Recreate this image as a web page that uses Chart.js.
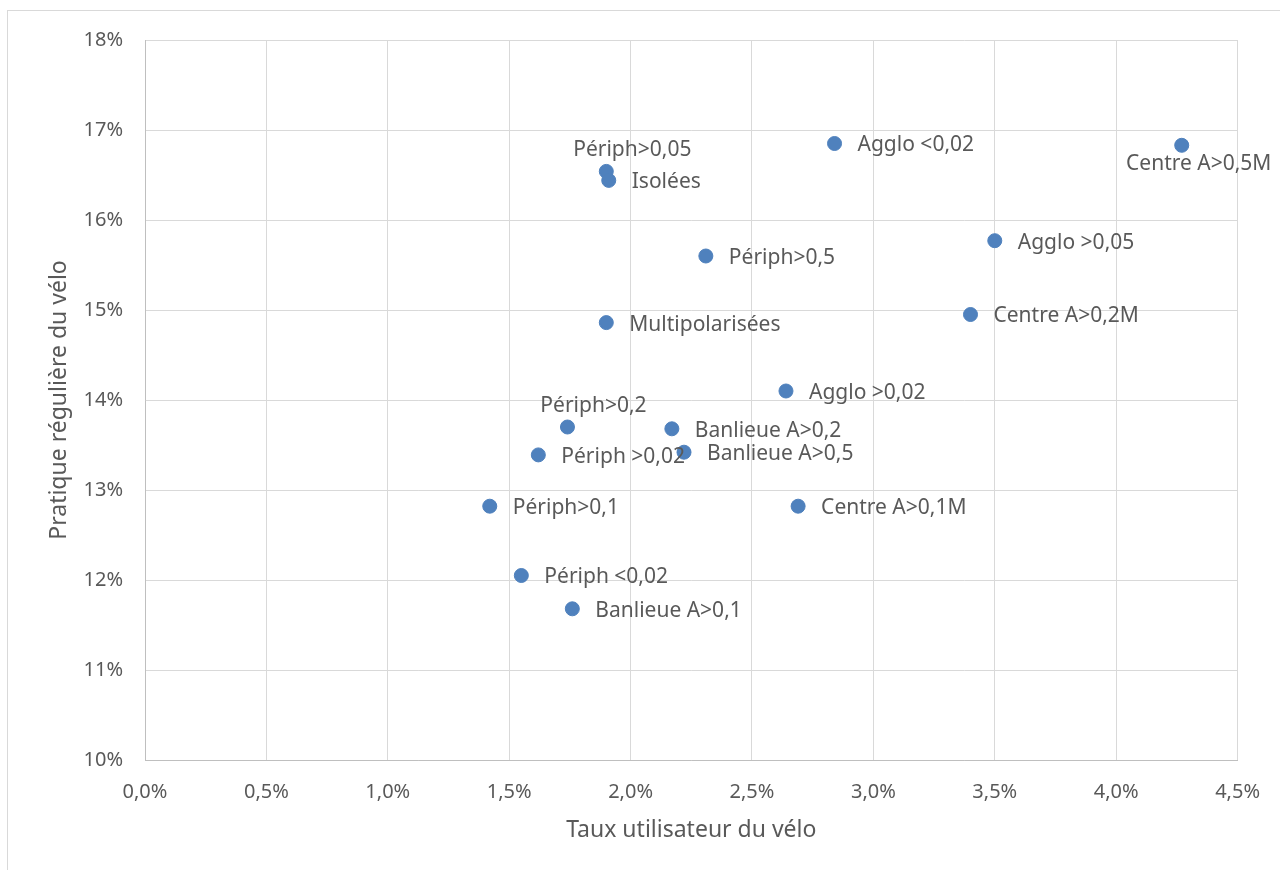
<!DOCTYPE html>
<html>
<head>
<meta charset="utf-8">
<script src="https://cdn.jsdelivr.net/npm/chart.js@4"></script>
<style>
  body { margin: 0; background: #fff; }
</style>
</head>
<body>
<canvas id="mycanvas" width="1280" height="870"></canvas>
<script>
// data (percent values)
var names = ['Agglo <0,02', 'Centre A>0,5M', 'Périph>0,05', 'Isolées', 'Agglo >0,05',
	'Périph>0,5', 'Centre A>0,2M', 'Multipolarisées', 'Agglo >0,02', 'Périph>0,2',
	'Banlieue A>0,2', 'Banlieue A>0,5', 'Périph >0,02', 'Périph>0,1', 'Centre A>0,1M',
	'Périph <0,02', 'Banlieue A>0,1'];
var tauxUtilisateur = [2.84, 4.27, 1.90, 1.91, 3.50, 2.31, 3.40, 1.90, 2.64, 1.74,
	2.17, 2.22, 1.62, 1.42, 2.69, 1.55, 1.76];
var pratiqueReguliere = [16.85, 16.83, 16.54, 16.44, 15.77, 15.60, 14.95, 14.86, 14.10, 13.70,
	13.68, 13.42, 13.39, 12.82, 12.82, 12.05, 11.68];
// where each label sits relative to its point
var labelSide = ['right', 'below', 'above', 'right', 'right', 'right', 'right', 'right', 'right', 'above',
	'right', 'right', 'right', 'right', 'right', 'right', 'right'];

var xTicks = { min: 0, max: 4.5, step: 0.5 };
var yTicks = { min: 10, max: 18, step: 1 };

var FONT = 'Noto Sans';
var TEXT = '#595959';

var points = [];
for (var i in names) {
	points.push({ x: tauxUtilisateur[i], y: pratiqueReguliere[i] });
}

var pointLabels = {
	id: 'pointLabels',
	afterDatasetsDraw: function(chart) {
		var ctx = chart.ctx;
		var meta = chart.getDatasetMeta(0);
		ctx.save();
		ctx.font = '21px "' + FONT + '"';
		ctx.fillStyle = TEXT;
		ctx.textBaseline = 'middle';
		meta.data.forEach(function(el, i) {
			var side = labelSide[i];
			if (side === 'above') {
				ctx.textAlign = 'center';
				ctx.fillText(names[i], el.x + 26, el.y - 21);
			} else if (side === 'below') {
				ctx.textAlign = 'center';
				ctx.fillText(names[i], el.x + 17, el.y + 19);
			} else {
				ctx.textAlign = 'left';
				ctx.fillText(names[i], el.x + 23, el.y + 2);
			}
		});
		ctx.restore();
	}
};

var outerBorder = {
	id: 'outerBorder',
	beforeDraw: function(chart) {
		var ctx = chart.ctx;
		ctx.save();
		ctx.fillStyle = '#fff';
		ctx.fillRect(0, 0, chart.width, chart.height);
		ctx.strokeStyle = '#d9d9d9';
		ctx.lineWidth = 1;
		ctx.strokeRect(7.5, 10.5, 1400, 1000);
		ctx.restore();
	}
};

var ctx = document.getElementById('mycanvas');
var scatter = new Chart(ctx, {
	type: 'scatter',
	data: {
		datasets: [{
			label: 'Pratique',
			data: points,
			backgroundColor: '#4f81bd',
			borderColor: '#4f81bd',
			pointRadius: 7,
			pointHoverRadius: 7
		}]
	},
	options: {
		responsive: false,
		animation: false,
		layout: { padding: { top: 40, right: 40, left: 0, bottom: 0 } },
		plugins: {
			legend: { display: false },
			tooltip: { enabled: false }
		},
		scales: {
			x: {
				type: 'linear',
				min: xTicks.min,
				max: xTicks.max,
				afterFit: function(scale) { scale.height = 110; },
				grid: { color: '#d9d9d9', drawTicks: false },
				border: { color: '#bfbfbf' },
				ticks: {
					stepSize: xTicks.step,
					padding: 20,
					color: TEXT,
					font: { family: FONT, size: 20 },
					callback: function(v) { return v.toFixed(1).replace('.', ',') + '%'; }
				},
				title: {
					display: true,
					text: 'Taux utilisateur du vélo',
					color: TEXT,
					font: { family: FONT, size: 23 },
					padding: { bottom: 26 }
				}
			},
			y: {
				type: 'linear',
				min: yTicks.min,
				max: yTicks.max,
				afterFit: function(scale) { scale.width = 145; },
				grid: { color: '#d9d9d9', drawTicks: false },
				border: { color: '#bfbfbf' },
				ticks: {
					stepSize: yTicks.step,
					padding: 22,
					color: TEXT,
					font: { family: FONT, size: 20 },
					callback: function(v) { return v + '%'; }
				},
				title: {
					display: true,
					text: 'Pratique régulière du vélo',
					color: TEXT,
					font: { family: FONT, size: 23 },
					padding: { top: 46 }
				}
			}
		}
	},
	plugins: [outerBorder, pointLabels]
});
</script>
</body>
</html>
